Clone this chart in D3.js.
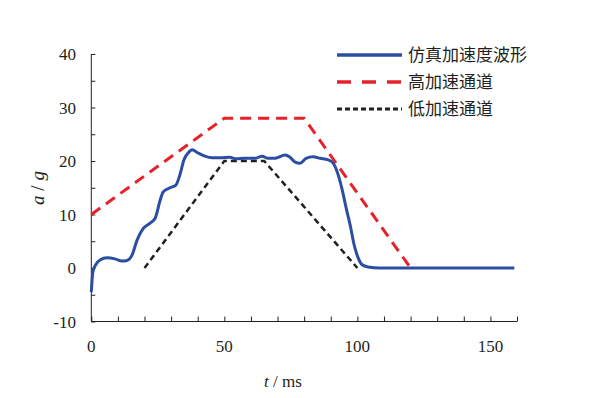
<!DOCTYPE html>
<html>
<head>
<meta charset="utf-8">
<script src="https://cdn.jsdelivr.net/npm/d3@7"></script>
<style>
body { margin: 0; background: #fff; }
svg { display: block; }
</style>
</head>
<body>
<main></main>
<script>
// simulated acceleration curve (t in ms, a in g)
var simT = [0, 0.6, 1.8, 3.3, 5.9, 8.9, 11.5, 13.4, 15.3, 17.2, 19.4, 22.1, 24, 25.9, 27, 29.6, 31.8, 33.3, 34.8, 36.4, 37.9, 40.1, 42.7, 45.4, 48.4, 52.1, 54.4, 57.7, 61.5, 64.2, 66.4, 69.1, 72.8, 74.7, 76.6, 78.5, 80.7, 83.3, 86, 89, 90.9, 92.8, 94.3, 95.8, 97.3, 98.8, 100.3, 101.8, 104, 108.5, 120, 130, 140, 150, 159];
var simA = [-4.5, -0.7, 0.7, 1.5, 1.9, 1.7, 1.3, 1.4, 2.4, 5.2, 7.3, 8.4, 9.3, 12.7, 14.2, 15, 15.5, 17.4, 20.2, 21.5, 22.1, 21.5, 20.9, 20.6, 20.6, 20.7, 20.4, 20.5, 20.5, 20.9, 20.5, 20.5, 21.1, 20.7, 19.8, 19.6, 20.5, 20.8, 20.5, 20.2, 19.6, 17.4, 14.6, 11.2, 8, 4.3, 1.9, 0.6, 0.2, 0, 0, 0, 0, 0, 0];
// corridors
var highT = [0, 50, 80, 120];
var highA = [10, 28, 28, 0];
var lowT = [20, 50, 65, 100];
var lowA = [0, 20, 20, 0];

var xTicks = [0, 50, 100, 150];
var yTicks = [-10, 0, 10, 20, 30, 40];
var names = ["仿真加速度波形", "高加速通道", "低加速通道"];

var width = 593, height = 398;
var svg = d3.select("main").append("svg")
    .attr("width", width)
    .attr("height", height);

var x = d3.scaleLinear().domain([0, 160]).range([91.3, 517]);
var y = d3.scaleLinear().domain([-10, 40]).range([321.5, 54]);

var serif = "'Liberation Serif','Times New Roman',serif";
var axisColor = "#231f20";

// x axis
var xAxis = svg.append("g")
    .attr("transform", "translate(0," + y(-10) + ")")
    .call(d3.axisBottom(x).tickValues(d3.range(0, 161, 10)).tickSize(-5).tickFormat(""));
xAxis.select(".domain").attr("d", "M" + x(0) + ",0H" + x(160));
xAxis.selectAll("line").attr("stroke", axisColor);
xAxis.select(".domain").attr("stroke", axisColor);

svg.selectAll(".xlab")
    .data(xTicks)
    .enter()
    .append("text")
    .attr("class", "xlab")
    .attr("x", d => x(d))
    .attr("y", 352)
    .attr("text-anchor", "middle")
    .style("font-family", serif)
    .style("font-size", "17px")
    .attr("fill", axisColor)
    .text(d => d);

// y axis
var yAxis = svg.append("g")
    .attr("transform", "translate(" + x(0) + ",0)")
    .call(d3.axisLeft(y).tickValues(d3.range(-10, 41, 5)).tickSize(-4).tickFormat(""));
yAxis.select(".domain").attr("d", "M0," + y(-10) + "V" + y(40));
yAxis.selectAll("line").attr("stroke", axisColor);
yAxis.select(".domain").attr("stroke", axisColor);

svg.selectAll(".ylab")
    .data(yTicks)
    .enter()
    .append("text")
    .attr("class", "ylab")
    .attr("x", 76)
    .attr("y", d => y(d) + 6)
    .attr("text-anchor", "end")
    .style("font-family", serif)
    .style("font-size", "17px")
    .attr("fill", axisColor)
    .text(d => d);

// axis titles
var xt = svg.append("text")
    .attr("x", 283)
    .attr("y", 387)
    .attr("text-anchor", "middle")
    .style("font-family", serif)
    .style("font-size", "17px")
    .attr("fill", axisColor);
xt.append("tspan").style("font-style", "italic").text("t");
xt.append("tspan").text(" / ms");

var yt = svg.append("text")
    .attr("transform", "translate(44,188) rotate(-90)")
    .attr("text-anchor", "middle")
    .style("font-family", serif)
    .style("font-size", "19px")
    .attr("fill", axisColor);
yt.append("tspan").style("font-style", "italic").text("a");
yt.append("tspan").text(" / ");
yt.append("tspan").style("font-style", "italic").text("g");

// lines
var line = d3.line().x(d => x(d[0])).y(d => y(d[1]));

svg.append("path")
    .datum(d3.zip(highT, highA))
    .attr("d", line)
    .attr("fill", "none")
    .attr("stroke", "#e8202a")
    .attr("stroke-width", 3)
    .attr("stroke-dasharray", "11,7");

svg.append("path")
    .datum(d3.zip(lowT, lowA))
    .attr("d", line)
    .attr("fill", "none")
    .attr("stroke", "#231f20")
    .attr("stroke-width", 2.5)
    .attr("stroke-dasharray", "6,4");

svg.append("path")
    .datum(d3.zip(simT, simA))
    .attr("d", line.curve(d3.curveMonotoneX))
    .attr("fill", "none")
    .attr("stroke", "#2b4ea2")
    .attr("stroke-width", 3)
    .attr("stroke-linejoin", "round");

// legend
var legStyles = [
    { c: "#2b4ea2", w: 3.5, dash: null },
    { c: "#e8202a", w: 3.5, dash: "14,11" },
    { c: "#231f20", w: 3, dash: "5,3" }
];
var leg = svg.selectAll(".leg")
    .data(names)
    .enter()
    .append("g")
    .attr("class", "leg")
    .attr("transform", (d, i) => "translate(0," + (55 + i * 27) + ")");

leg.append("line")
    .attr("x1", 337)
    .attr("x2", 402)
    .attr("stroke", (d, i) => legStyles[i].c)
    .attr("stroke-width", (d, i) => legStyles[i].w)
    .attr("stroke-dasharray", (d, i) => legStyles[i].dash);

leg.append("text")
    .attr("x", 408)
    .attr("y", 6)
    .style("font-family", "'Noto Sans CJK SC', sans-serif")
    .style("font-size", "17px")
    .attr("fill", "#231f20")
    .text(d => d);
</script>
</body>
</html>
